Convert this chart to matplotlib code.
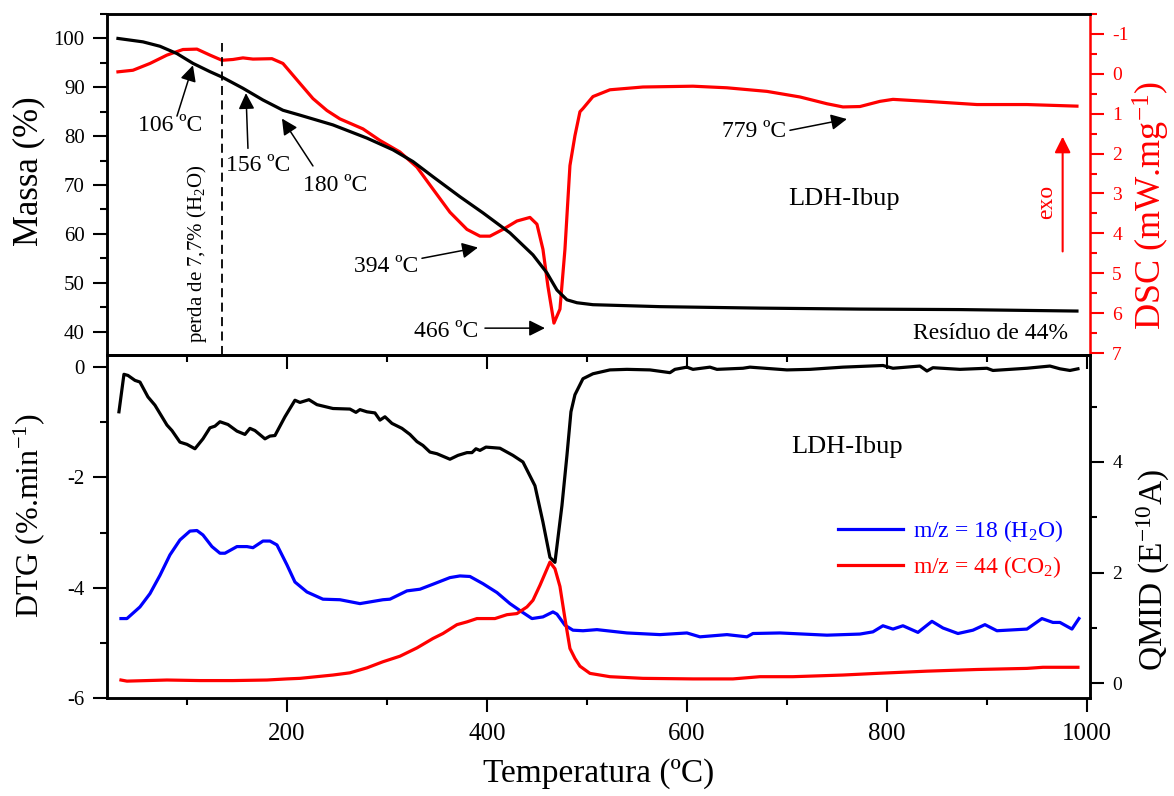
#TG / DSC / DTG / QMID do LDH-Ibup
import matplotlib
matplotlib.use('Agg')
import matplotlib.pyplot as plt
from matplotlib.ticker import MultipleLocator

plt.rcParams['font.family'] = ['Liberation Serif', 'DejaVu Serif']
plt.rcParams['mathtext.default'] = 'regular'
plt.rcParams['axes.unicode_minus'] = False

#dados TG (massa %)
t_tg = [31, 56, 73, 90, 106, 123, 135, 156, 176, 196, 213, 246, 280, 306, 326, 346, 373, 396,
        423, 446, 460, 470, 480, 490, 506, 573, 673, 773, 873, 990]
massa = [100.0, 99.3, 98.4, 96.9, 94.9, 93.2, 92.1, 89.8, 87.4, 85.3, 84.3, 82.3, 79.6, 77.2, 74.8,
         71.7, 67.6, 64.3, 60.2, 55.7, 52.0, 48.5, 46.5, 45.9, 45.5, 45.1, 44.8, 44.6, 44.5, 44.2]

#dados DSC
t_dsc = [31, 46, 63, 80, 96, 110, 123, 135, 146, 156, 166, 185, 196, 213, 226, 240, 253, 276, 293,
         313, 330, 346, 363, 380, 393, 403, 416, 430, 443, 450, 456, 461, 467, 473, 478, 483, 488,
         493, 496, 506, 523, 556, 606, 640, 680, 713, 740, 756, 773, 793, 806, 840, 890, 940, 990]
dsc = [-0.05, -0.09, -0.26, -0.47, -0.61, -0.62, -0.47, -0.34, -0.36, -0.40, -0.37, -0.38, -0.26,
       0.24, 0.62, 0.92, 1.13, 1.38, 1.67, 1.96, 2.34, 2.89, 3.47, 3.90, 4.07, 4.07, 3.90, 3.69,
       3.60, 3.77, 4.40, 5.33, 6.25, 5.90, 4.40, 2.30, 1.55, 0.95, 0.87, 0.57, 0.40, 0.33, 0.31,
       0.35, 0.44, 0.58, 0.75, 0.83, 0.82, 0.69, 0.64, 0.69, 0.77, 0.77, 0.81]

#dados DTG
t_dtg = [32, 37, 41, 48, 53, 61, 68, 75, 80, 85, 93, 100, 108, 116, 123, 128, 133, 141, 150, 158,
         163, 168, 178, 183, 188, 198, 208, 213, 222, 230, 246, 263, 269, 273, 280, 288, 293, 298,
         305, 315, 323, 330, 336, 343, 350, 363, 371, 380, 385, 389, 393, 399, 413, 426, 436, 448,
         456, 463, 468, 475, 480, 484, 488, 496, 506, 523, 540, 563, 583, 588, 600, 606, 623, 630,
         656, 663, 700, 723, 756, 796, 806, 833, 840, 846, 873, 900, 906, 940, 963, 973, 983, 991]
dtg = [-0.81, -0.13, -0.15, -0.24, -0.27, -0.54, -0.69, -0.90, -1.05, -1.15, -1.36, -1.40, -1.48,
       -1.30, -1.10, -1.07, -0.99, -1.04, -1.16, -1.22, -1.11, -1.15, -1.30, -1.25, -1.24, -0.90,
       -0.60, -0.64, -0.59, -0.68, -0.75, -0.76, -0.82, -0.77, -0.81, -0.83, -0.96, -0.90, -1.02,
       -1.11, -1.22, -1.35, -1.42, -1.54, -1.57, -1.67, -1.60, -1.55, -1.55, -1.48, -1.51, -1.45,
       -1.47, -1.60, -1.72, -2.15, -2.81, -3.45, -3.54, -2.51, -1.60, -0.81, -0.50, -0.21, -0.12,
       -0.05, -0.04, -0.05, -0.10, -0.04, 0.00, -0.04, 0.00, -0.04, -0.02, 0.00, -0.05, -0.04,
       0.00, 0.03, -0.02, 0.02, -0.07, -0.01, -0.04, -0.02, -0.06, -0.02, 0.02, -0.03, -0.06, -0.03]

#QMID m/z = 18
t_h2o = [34, 40, 53, 63, 73, 83, 93, 103, 110, 116, 125, 133, 138, 150, 160, 166, 176, 183, 190,
         200, 208, 220, 236, 253, 273, 296, 303, 320, 333, 346, 363, 373, 383, 396, 410, 423, 435,
         445, 456, 466, 470, 478, 486, 496, 510, 540, 573, 600, 613, 640, 660, 666, 693, 740, 773,
         786, 796, 806, 816, 831, 845, 856, 871, 886, 898, 910, 940, 955, 966, 973, 985, 992]
h2o = [1.17, 1.17, 1.38, 1.62, 1.95, 2.32, 2.59, 2.75, 2.76, 2.68, 2.47, 2.35, 2.35, 2.47, 2.47,
       2.45, 2.57, 2.57, 2.50, 2.14, 1.83, 1.65, 1.52, 1.51, 1.44, 1.51, 1.52, 1.67, 1.70, 1.79,
       1.91, 1.94, 1.93, 1.80, 1.64, 1.44, 1.29, 1.17, 1.20, 1.29, 1.25, 1.05, 0.96, 0.95, 0.97,
       0.91, 0.88, 0.91, 0.84, 0.88, 0.84, 0.90, 0.91, 0.87, 0.89, 0.93, 1.04, 0.98, 1.04, 0.92,
       1.12, 1.00, 0.90, 0.96, 1.06, 0.95, 0.98, 1.17, 1.10, 1.10, 0.98, 1.17]

#QMID m/z = 44
t_co2 = [34, 40, 80, 113, 146, 180, 200, 213, 246, 263, 280, 296, 313, 330, 346, 356, 370, 380,
         390, 408, 420, 430, 440, 446, 453, 463, 468, 473, 478, 483, 488, 493, 503, 523, 556, 606,
         646, 673, 706, 756, 790, 840, 890, 940, 956, 991]
co2 = [0.06, 0.04, 0.06, 0.05, 0.05, 0.06, 0.08, 0.09, 0.15, 0.19, 0.28, 0.39, 0.49, 0.64, 0.81,
       0.90, 1.06, 1.11, 1.17, 1.17, 1.24, 1.26, 1.38, 1.50, 1.77, 2.19, 2.07, 1.75, 1.17, 0.63,
       0.45, 0.31, 0.18, 0.12, 0.09, 0.08, 0.08, 0.12, 0.12, 0.15, 0.18, 0.22, 0.25, 0.27, 0.29,
       0.29]

#anotações: texto, posição do texto, início e ponta da seta
picos = [('106 ºC', (83, 82.1), (90, 84.1), (106, 94.5)),
         ('156 ºC', (171, 73.9), (161, 77.5), (159, 88.8)),
         ('180 ºC', (248, 70.0), (226, 73.9), (195, 83.6)),
         ('394 ºC', (299, 53.4), (335, 55.0), (391, 57.2)),
         ('466 ºC', (359, 40.1), (398, 40.7), (458, 40.7)),
         ('779 ºC', (667, 81.0), (703, 81.2), (760, 83.5))]

lw_sp = 1.8

fig = plt.figure(figsize=(11.74, 7.96), dpi=100)
ax1 = fig.add_axes([0.0911, 0.554, 0.8373, 0.4284])
ax2 = fig.add_axes([0.0911, 0.1231, 0.8373, 0.4309])
ax1r = ax1.twinx()
ax2r = ax2.twinx()

#painel superior
ax1r.plot(t_dsc, dsc, color='red', lw=2.3)
ax1.plot(t_tg, massa, color='black', lw=2.3)
ax1.set_zorder(ax1r.get_zorder() + 1)
ax1.patch.set_visible(False)

ax1.set_xlim(20, 1003)
ax1.set_ylim(35.2, 105)
ax1r.set_ylim(7.05, -1.5)

ax1.xaxis.set_major_locator(MultipleLocator(200))
ax1.xaxis.set_minor_locator(MultipleLocator(100))
ax1.yaxis.set_major_locator(MultipleLocator(10))
ax1.yaxis.set_minor_locator(MultipleLocator(5))
ax1.yaxis.set_major_formatter(matplotlib.ticker.FormatStrFormatter('%d'))
ax1.tick_params(axis='x', which='both', direction='out', top=False, labelbottom=False, width=1.5)
ax1.tick_params(axis='x', which='major', length=10)
ax1.tick_params(axis='x', which='minor', length=5)
ax1.tick_params(axis='y', which='both', direction='out', right=False, width=1.5, labelsize=15, pad=6)
ax1.tick_params(axis='y', which='major', length=10)
ax1.tick_params(axis='y', which='minor', length=5)

ax1r.yaxis.set_major_locator(MultipleLocator(1))
ax1r.yaxis.set_minor_locator(MultipleLocator(0.5))
ax1r.yaxis.set_major_formatter(matplotlib.ticker.FormatStrFormatter('%d'))
ax1r.tick_params(axis='y', which='both', direction='out', colors='red', width=1.5, labelsize=14, pad=6)
ax1r.tick_params(axis='y', which='major', length=10)
ax1r.tick_params(axis='y', which='minor', length=5)

for s in ax1.spines.values():
    s.set_linewidth(lw_sp)
for s in ax1r.spines.values():
    s.set_linewidth(lw_sp)
ax1.spines['right'].set_visible(False)
ax1r.spines['right'].set_color('red')

ax1.set_ylabel('Massa (%)', fontsize=25)
ax1.yaxis.set_label_coords(-0.063, 0.538)
ax1r.set_ylabel('DSC (mW.mg$^{-1}$)', fontsize=26, color='red')
ax1r.yaxis.set_label_coords(1.042, 0.44)

for txt, pt, cauda, ponta in picos:
    ax1.text(pt[0], pt[1], txt, ha='center', va='center', fontsize=17)
    ax1.annotate('', xy=ponta, xytext=cauda,
                 arrowprops=dict(arrowstyle='-|>', color='black', lw=1.1,
                                 mutation_scale=24, shrinkA=0, shrinkB=0))

ax1.axvline(135, ymin=0, ymax=(99.0 - 35.2) / (105 - 35.2), color='black', lw=1.3, ls=(0, (5, 3)))
ax1.text(110.5, 55.9, 'perda de 7,7% (H$_2$O)', rotation=90, ha='center', va='center', fontsize=15)
ax1.text(757, 67.2, 'LDH-Ibup', ha='center', va='center', fontsize=19)
ax1.text(981, 39.7, 'Resíduo de 44%', ha='right', va='center', fontsize=17)
ax1.text(960, 66.5, 'exo', rotation=90, ha='center', va='center', fontsize=17, color='red')
ax1.annotate('', xy=(975.7, 79.9), xytext=(975.7, 56.4),
             arrowprops=dict(arrowstyle='-|>', color='red', lw=1.5,
                             mutation_scale=24, shrinkA=0, shrinkB=0))

#painel inferior
ax2.plot(t_dtg, dtg, color='black', lw=2.3)
ax2r.plot(t_h2o, h2o, color='blue', lw=2.3, label='m/z = 18 (H$_2$O)')
ax2r.plot(t_co2, co2, color='red', lw=2.3, label='m/z = 44 (CO$_2$)')
ax2.set_zorder(ax2r.get_zorder() + 1)
ax2.patch.set_visible(False)

ax2.set_xlim(20, 1003)
ax2.set_ylim(-6, 0.22)
ax2r.set_ylim(-0.265, 5.93)

ax2.xaxis.set_major_locator(MultipleLocator(200))
ax2.xaxis.set_minor_locator(MultipleLocator(100))
ax2.yaxis.set_major_locator(MultipleLocator(2))
ax2.yaxis.set_minor_locator(MultipleLocator(1))
ax2.tick_params(axis='x', which='both', direction='out', top=False, width=1.5, labelsize=18, pad=8)
ax2.tick_params(axis='x', which='major', length=10)
ax2.tick_params(axis='x', which='minor', length=5)
ax2.tick_params(axis='y', which='both', direction='out', right=False, width=1.5, labelsize=15, pad=6)
ax2.tick_params(axis='y', which='major', length=10)
ax2.tick_params(axis='y', which='minor', length=5)

ax2r.yaxis.set_major_locator(MultipleLocator(2))
ax2r.yaxis.set_minor_locator(MultipleLocator(1))
ax2r.tick_params(axis='y', which='both', direction='out', width=1.5, labelsize=14, pad=6)
ax2r.tick_params(axis='y', which='major', length=10)
ax2r.tick_params(axis='y', which='minor', length=5)

for s in ax2.spines.values():
    s.set_linewidth(lw_sp)
for s in ax2r.spines.values():
    s.set_linewidth(lw_sp)

ax2.set_xlabel('Temperatura (ºC)', fontsize=24)
ax2.xaxis.set_label_coords(0.5, -0.175)
ax2.set_ylabel('DTG (%.min$^{-1}$)', fontsize=23)
ax2.yaxis.set_label_coords(-0.061, 0.531)
ax2r.set_ylabel('QMID (E$^{-10}$A)', fontsize=24)
ax2r.yaxis.set_label_coords(1.046, 0.373)

ax2.text(760.5, -1.44, 'LDH-Ibup', ha='center', va='center', fontsize=19)

ax2r.legend(loc='upper left', bbox_to_anchor=(0.744, 0.525), frameon=False, fontsize=17,
            handlelength=2.75, handletextpad=0.4, labelspacing=0.45, borderpad=0,
            borderaxespad=0, labelcolor='linecolor')

plt.savefig('out.png', dpi=100)
